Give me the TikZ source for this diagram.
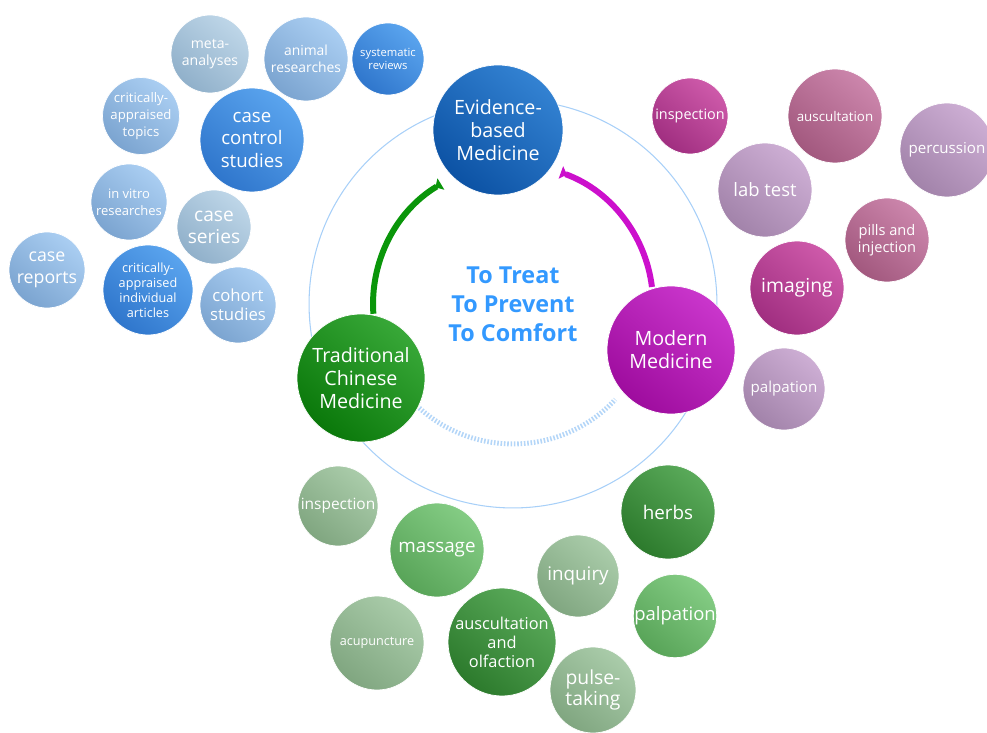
\documentclass[tikz,border=0pt]{standalone}
\usepackage{fontspec}
\setmainfont{Open Sans}
\usetikzlibrary{arrows.meta}

\definecolor{ringblue}{HTML}{A8D0F8}
\definecolor{ticksblue}{HTML}{B4D6F8}
\definecolor{centerblue}{HTML}{3399FF}
\definecolor{arcgreen}{HTML}{0A960A}
\definecolor{arcpink}{HTML}{CC10CC}
% main circles
\definecolor{ebmtop}{HTML}{3382D2}   \definecolor{ebmbot}{HTML}{0C52A4}
\definecolor{mmtop}{HTML}{CA36CC}    \definecolor{mmbot}{HTML}{9E0C9E}
\definecolor{tcmtop}{HTML}{38A838}   \definecolor{tcmbot}{HTML}{0A780A}
% satellites
\definecolor{ebmdarktop}{HTML}{5AA4EE}  \definecolor{ebmdarkbot}{HTML}{2F76CC}
\definecolor{ebmlighttop}{HTML}{AACEF2} \definecolor{ebmlightbot}{HTML}{7BA4D0}
\definecolor{ebmgreytop}{HTML}{BED6E8}  \definecolor{ebmgreybot}{HTML}{90B0CA}
\definecolor{mmpinktop}{HTML}{CE5AAA}   \definecolor{mmpinkbot}{HTML}{A02E80}
\definecolor{mmmauvetop}{HTML}{CC86AC}  \definecolor{mmmauvebot}{HTML}{A2587E}
\definecolor{mmlilactop}{HTML}{CDAED4}  \definecolor{mmlilacbot}{HTML}{A283AA}
\definecolor{tcmdarktop}{HTML}{5AAA5A}  \definecolor{tcmdarkbot}{HTML}{2C7A2C}
\definecolor{tcmmidtop}{HTML}{84CC84}   \definecolor{tcmmidbot}{HTML}{58A458}
\definecolor{tcmgreytop}{HTML}{AACCAA}  \definecolor{tcmgreybot}{HTML}{80A680}

\begin{document}
\begin{tikzpicture}[x=0.02cm, y=-0.02cm,
    ball/.style={circle, inner sep=0pt, text=white, align=center,
        top color=#1top, bottom color=#1bot, shading angle=-40, draw=white, line width=0.4pt},
    mainball/.style={font=\fontsize{11.2}{13}\selectfont},
    arcline/.style={line width=3.4pt, -{Triangle[reversed, length=1.3mm, width=2.6mm]}},
]
\useasboundingbox (0,0) rectangle (987,733);

% hub and ring
\coordinate (hub) at (513,304);
\draw[ringblue, line width=0.6pt] (hub) circle[radius=4.08cm];

% the three main circles
\node[ball=ebm, mainball, minimum size=2.6cm] (ebm) at (498,130) {Evidence-\\based\\Medicine};
\node[ball=mm, mainball, minimum size=2.56cm] (mm) at (671,350) {Modern\\Medicine};
\node[ball=tcm, mainball, minimum size=2.56cm] (tcm) at (361,378) {Traditional\\Chinese\\Medicine};

\node[text=centerblue, align=center, font=\fontsize{13.3}{16.5}\selectfont\bfseries] (goal) at (hub) {To Treat\\To Prevent\\To Comfort};

% arcs between them
\draw[arcline, arcgreen] ([shift={(184:2.8cm)}]hub) arc[start angle=184, end angle=121, radius=2.8cm];
\draw[arcline, arcpink] ([shift={(7:2.8cm)}]hub) arc[start angle=7, end angle=70, radius=2.8cm];
\draw[ticksblue, line width=2.8pt, dash pattern=on 0.9pt off 1pt] ([shift={(228:2.8cm)}]hub) arc[start angle=228, end angle=317, radius=2.8cm];

% evidence-based medicine
\node[ball=ebmgrey, minimum size=1.56cm, font=\fontsize{8}{10}\selectfont] (meta) at (210,54) {meta-\\analyses};
\node[ball=ebmlight, minimum size=1.68cm, font=\fontsize{7.9}{10}\selectfont] (animal) at (306,59) {animal\\researches};
\node[ball=ebmdark, minimum size=1.44cm, font=\fontsize{6.4}{7.6}\selectfont] (sysrev) at (388,59) {systematic\\reviews};
\node[ball=ebmlight, minimum size=1.52cm, font=\fontsize{7.5}{9.6}\selectfont] (catopics) at (141,116) {critically-\\appraised\\topics};
\node[ball=ebmdark, minimum size=2.08cm, font=\fontsize{10.6}{12.9}\selectfont] (casecontrol) at (252,140) {case\\control\\studies};
\node[ball=ebmlight, minimum size=1.52cm, font=\fontsize{7.4}{9.6}\selectfont] (invitro) at (129,202) {in vitro\\researches};
\node[ball=ebmgrey, minimum size=1.48cm, font=\fontsize{10.9}{12.5}\selectfont] (caseseries) at (214,227) {case\\series};
\node[ball=ebmlight, minimum size=1.52cm, font=\fontsize{10.1}{12.4}\selectfont] (casereports) at (47,270) {case\\reports};
\node[ball=ebmdark, minimum size=1.8cm, font=\fontsize{7.2}{8.6}\selectfont] (caarticles) at (148,290) {critically-\\appraised\\individual\\articles};
\node[ball=ebmlight, minimum size=1.52cm, font=\fontsize{9.5}{11}\selectfont] (cohort) at (238,305) {cohort\\studies};

% modern medicine
\node[ball=mmpink, minimum size=1.52cm, font=\fontsize{8.2}{9}\selectfont] (mminsp) at (690,116) {inspection};
\node[ball=mmmauve, minimum size=1.88cm, font=\fontsize{7.6}{9}\selectfont] (mmausc) at (835,116) {auscultation};
\node[ball=mmlilac, minimum size=1.88cm, font=\fontsize{8.6}{10}\selectfont] (mmperc) at (947,150) {percussion};
\node[ball=mmlilac, minimum size=1.88cm, font=\fontsize{10.5}{11}\selectfont] (mmlab) at (765,190) {lab test};
\node[ball=mmmauve, minimum size=1.68cm, font=\fontsize{8.3}{9.6}\selectfont] (mmpills) at (887,240) {pills and\\injection};
\node[ball=mmpink, minimum size=1.88cm, font=\fontsize{11}{12}\selectfont] (mmimg) at (797,288) {imaging};
\node[ball=mmlilac, minimum size=1.64cm, font=\fontsize{8.6}{10}\selectfont] (mmpalp) at (784,389) {palpation};

% traditional chinese medicine
\node[ball=tcmgrey, minimum size=1.6cm, font=\fontsize{8.8}{10}\selectfont] (tcminsp) at (338,506) {inspection};
\node[ball=tcmmid, minimum size=1.88cm, font=\fontsize{10.7}{12}\selectfont] (tcmmass) at (437,550) {massage};
\node[ball=tcmdark, minimum size=1.88cm, font=\fontsize{10.7}{12}\selectfont] (tcmherb) at (668,512) {herbs};
\node[ball=tcmgrey, minimum size=1.64cm, font=\fontsize{10.7}{12}\selectfont] (tcminq) at (578,576) {inquiry};
\node[ball=tcmmid, minimum size=1.64cm, font=\fontsize{10.5}{11}\selectfont] (tcmpalp) at (675,616) {palpation};
\node[ball=tcmgrey, minimum size=1.88cm, font=\fontsize{7.2}{9}\selectfont] (tcmacu) at (377,643) {acupuncture};
\node[ball=tcmdark, minimum size=2.16cm, font=\fontsize{9.3}{10.8}\selectfont] (tcmausc) at (502,642) {auscultation\\and\\olfaction};
\node[ball=tcmgrey, minimum size=1.72cm, font=\fontsize{11}{12.4}\selectfont] (tcmpulse) at (593,690) {pulse-\\taking};

\end{tikzpicture}
\end{document}
